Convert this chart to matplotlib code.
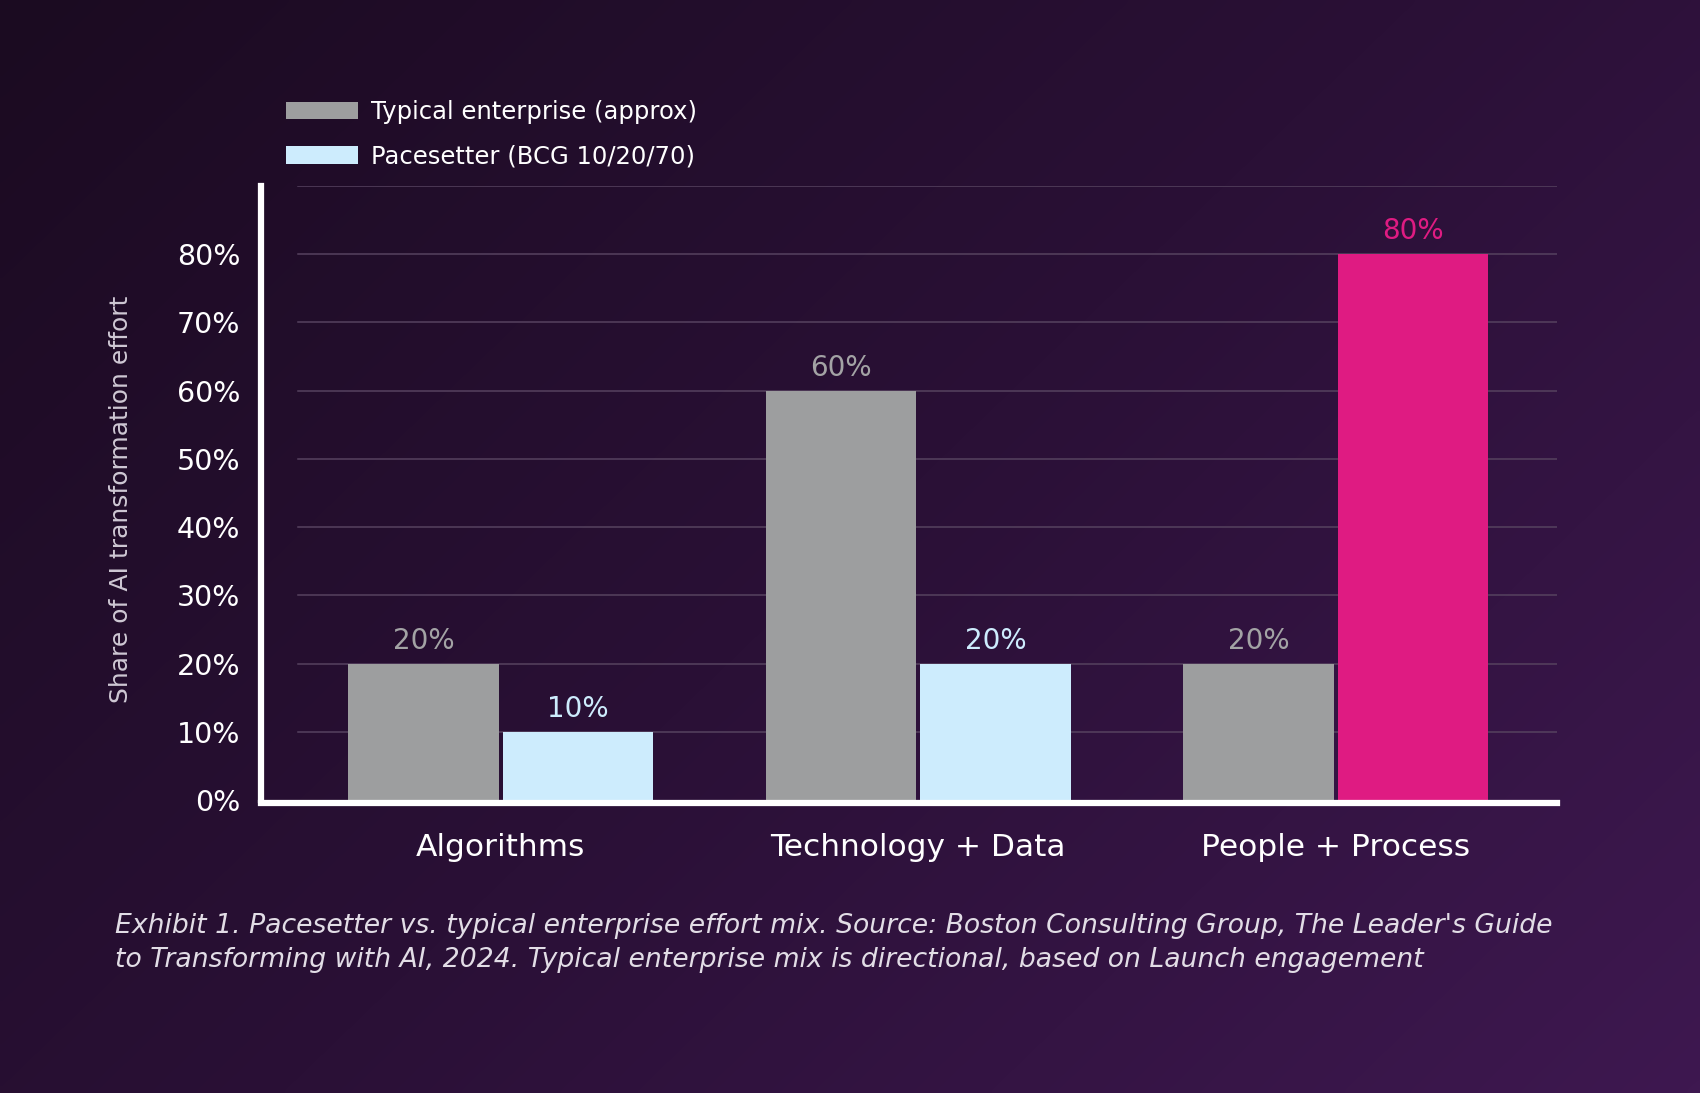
import numpy as np
import matplotlib
matplotlib.use("Agg")
import matplotlib.pyplot as plt
from matplotlib.colors import LinearSegmentedColormap
from matplotlib.patches import Patch

categories = ["Algorithms", "Technology + Data", "People + Process"]
typical = [20, 60, 20]
pacesetter = [10, 20, 80]
pace_colors = ["#cdecfd", "#cdecfd", "#df1b82"]
pace_label_colors = ["#cdecfd", "#cdecfd", "#df1b82"]
yticks = [0, 10, 20, 30, 40, 50, 60, 70, 80]
ytick_labels = [f"{v}%" for v in yticks]
series_names = ["Typical enterprise (approx)", "Pacesetter (BCG 10/20/70)"]
caption = ("Exhibit 1. Pacesetter vs. typical enterprise effort mix. Source: Boston Consulting Group, The Leader's Guide\n"
           "to Transforming with AI, 2024. Typical enterprise mix is directional, based on Launch engagement")

FONT = ["DejaVu Sans"]
plt.rcParams["font.family"] = FONT

W, H = 1700, 1093
fig = plt.figure(figsize=(W / 100, H / 100), dpi=100)

# background gradient
bg = fig.add_axes([0, 0, 1, 1], zorder=-10)
xx, yy = np.meshgrid(np.linspace(0, 1, 400), np.linspace(0, 1, 260))
g = (xx * 0.6 + yy * 0.4)
cmap = LinearSegmentedColormap.from_list("bg", ["#1b0b21", "#2a1036", "#3e1850"])
bg.imshow(g, cmap=cmap, aspect="auto", extent=[0, 1, 0, 1], origin="upper", interpolation="bicubic")
bg.set_axis_off()

left, right = 261 / W, 1557 / W
bottom, top = 1 - 800 / H, 1 - 186 / H
ax = fig.add_axes([left, bottom, right - left, top - bottom])
ax.set_facecolor("none")

for s in ["top", "right"]:
    ax.spines[s].set_visible(False)
for s in ["left", "bottom"]:
    ax.spines[s].set_color("white")
    ax.spines[s].set_linewidth(4.5)
    ax.spines[s].set_zorder(5)
ax.spines["bottom"].set_position(("data", -0.4))

x = np.arange(len(categories))
w = 0.36
off = 0.185
b1 = ax.bar(x - off, typical, w, color="#9d9e9f", zorder=3)
b2 = ax.bar(x + off, pacesetter, w, color=pace_colors, zorder=3)

ax.set_xlim(-0.574, 2.53)
ax.set_ylim(0, 90)

for gy in list(range(10, 100, 10)):
    ax.axhline(gy, xmin=0.0285, xmax=1, color="#56425f", lw=1.1, zorder=1)

for rect, v in zip(b1, typical):
    ax.text(rect.get_x() + rect.get_width() / 2, v + 1.3, f"{v}%", ha="center", va="bottom",
            color="#a3a3a5", fontsize=20)
for rect, v, c in zip(b2, pacesetter, pace_label_colors):
    ax.text(rect.get_x() + rect.get_width() / 2, v + 1.3, f"{v}%", ha="center", va="bottom",
            color=c, fontsize=20)

ax.set_yticks(yticks)
ax.set_yticklabels(ytick_labels)
ax.set_xticks(x)
ax.set_xticklabels(categories)
ax.tick_params(axis="both", length=0, labelcolor="white")
ax.tick_params(axis="y", pad=15, labelsize=20.5)
ax.tick_params(axis="x", pad=22, labelsize=22.5)

fig.text(121 / W, 1 - 499 / H, "Share of AI transformation effort", rotation=90, ha="center", va="center",
         color="#cfc8d4", fontsize=18)

handles = [Patch(facecolor="#9d9e9f"), Patch(facecolor="#cdecfd")]
leg = fig.legend(handles, series_names, loc="upper left", bbox_to_anchor=(286 / W, 1 - 100 / H),
                 frameon=False, fontsize=17.5, labelcolor="white", handlelength=2.95, handleheight=0.75,
                 handletextpad=0.55, labelspacing=0.85, borderaxespad=0, borderpad=0)

fig.text(115 / W, 1 - 943 / H, caption, ha="left", va="center", color="#e2dde6", fontsize=19.2,
         style="italic", linespacing=1.42)

fig.savefig("out.png", dpi=100)
